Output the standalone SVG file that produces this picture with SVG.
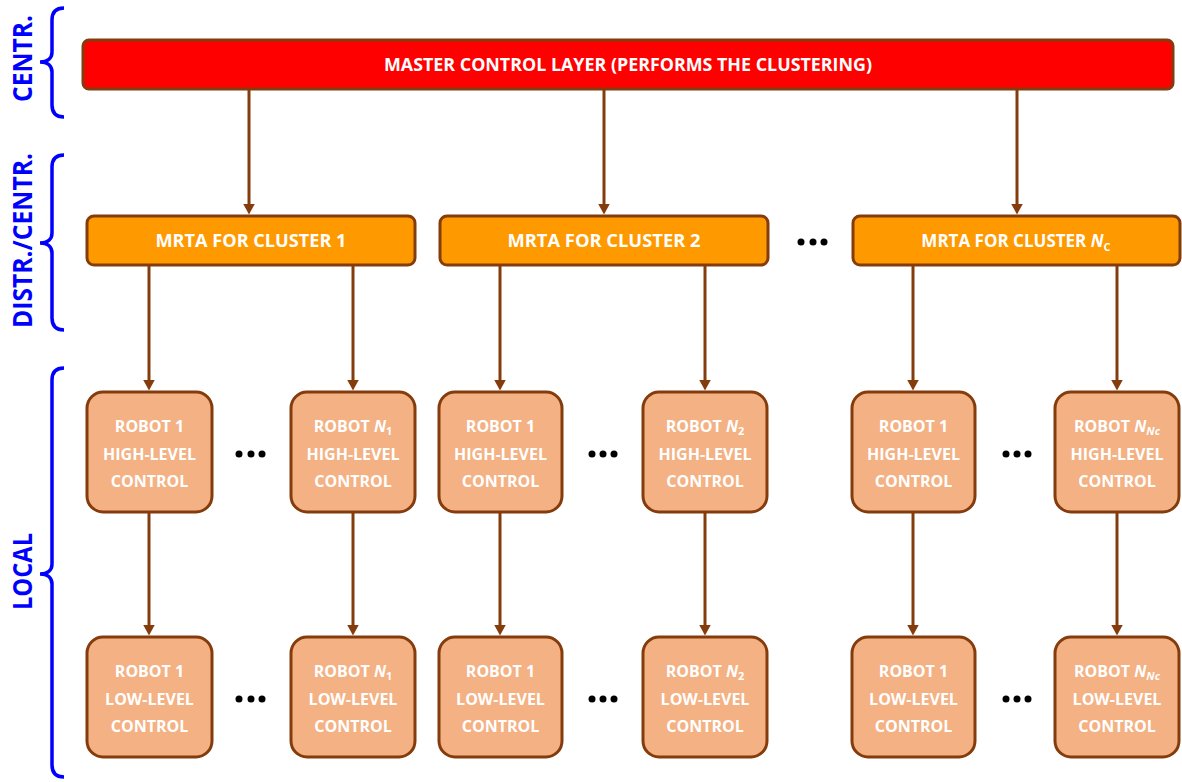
<svg xmlns="http://www.w3.org/2000/svg" width="1182" height="782" viewBox="0 0 1182 782">
<defs>
<marker id="ah" markerWidth="11" markerHeight="12" refX="0.5" refY="6" orient="auto" markerUnits="userSpaceOnUse" viewBox="0 0 11 12">
<path d="M0,0 L11,6 L0,12 Z" fill="#843C0C"/>
</marker>
<style>
.t{font-family:"Open Sans","Lato","Liberation Sans",sans-serif;font-weight:bold;fill:#fff;text-anchor:middle}
.rb{fill:#F4B183;stroke:#843C0C;stroke-width:3}
.mr{fill:#FF9900;stroke:#843C0C;stroke-width:3}
.ln{stroke:#843C0C;stroke-width:3;fill:none}
.br{stroke:#0000FF;stroke-width:3.5;fill:none}
.lb{font-family:"Open Sans","Lato","Liberation Sans",sans-serif;font-weight:bold;fill:#0000FF;text-anchor:middle;font-size:26px}
.r{font-size:16px}
.d{fill:#000}
</style>
</defs>
<rect width="1182" height="782" fill="#fff"/>

<g id="labels">
<path class="br" d="M64,8 C56,8 52,12 52,20 L52,52 C52,58 48,62 40,62 C48,62 52,66 52,72 L52,105 C52,113 56,117 64,117"/>
<text class="lb" transform="translate(31.5,58.5) rotate(-90)" textLength="87" lengthAdjust="spacingAndGlyphs">CENTR.</text>
<path class="br" d="M64,155 C56,155 52,159 52,167 L52,233 C52,239 48,243 40,243 C48,243 52,247 52,253 L52,318 C52,326 56,330 64,330"/>
<text class="lb" transform="translate(31.5,240.5) rotate(-90)" textLength="175" lengthAdjust="spacingAndGlyphs">DISTR./CENTR.</text>
<path class="br" d="M64,368 C56,368 52,372 52,380 L52,564 C52,570 48,574 40,574 C48,574 52,578 52,584 L52,765 C52,773 56,777 64,777"/>
<text class="lb" transform="translate(31.5,571.5) rotate(-90)" textLength="77" lengthAdjust="spacingAndGlyphs">LOCAL</text>
</g>

<g id="connectors">
<line class="ln" x1="249" y1="90" x2="249" y2="204" marker-end="url(#ah)"/>
<line class="ln" x1="604" y1="90" x2="604" y2="204" marker-end="url(#ah)"/>
<line class="ln" x1="1017" y1="90" x2="1017" y2="204" marker-end="url(#ah)"/>
<line class="ln" x1="149" y1="266" x2="149" y2="380" marker-end="url(#ah)"/>
<line class="ln" x1="353" y1="266" x2="353" y2="380" marker-end="url(#ah)"/>
<line class="ln" x1="500" y1="266" x2="500" y2="380" marker-end="url(#ah)"/>
<line class="ln" x1="705" y1="266" x2="705" y2="380" marker-end="url(#ah)"/>
<line class="ln" x1="913" y1="266" x2="913" y2="380" marker-end="url(#ah)"/>
<line class="ln" x1="1117" y1="266" x2="1117" y2="380" marker-end="url(#ah)"/>
<line class="ln" x1="149" y1="513" x2="149" y2="625" marker-end="url(#ah)"/>
<line class="ln" x1="353" y1="513" x2="353" y2="625" marker-end="url(#ah)"/>
<line class="ln" x1="500" y1="513" x2="500" y2="625" marker-end="url(#ah)"/>
<line class="ln" x1="705" y1="513" x2="705" y2="625" marker-end="url(#ah)"/>
<line class="ln" x1="913" y1="513" x2="913" y2="625" marker-end="url(#ah)"/>
<line class="ln" x1="1117" y1="513" x2="1117" y2="625" marker-end="url(#ah)"/>
</g>

<g id="master">
<rect x="83" y="40" width="1090" height="49" rx="6" fill="#FF0000" stroke="#843C0C" stroke-width="3"/>
<text class="t" x="628" y="71" font-size="18" textLength="488" lengthAdjust="spacingAndGlyphs">MASTER CONTROL LAYER (PERFORMS THE CLUSTERING)</text>
</g>

<g id="mrta1"><rect class="mr" x="87" y="216" width="328" height="49" rx="7"/>
<text class="t" x="251" y="247" font-size="17" textLength="191" lengthAdjust="spacingAndGlyphs">MRTA FOR CLUSTER 1</text></g>
<g id="mrta2"><rect class="mr" x="440" y="216" width="328" height="49" rx="7"/>
<text class="t" x="604" y="247" font-size="17" textLength="193" lengthAdjust="spacingAndGlyphs">MRTA FOR CLUSTER 2</text></g>
<g id="mrtaN"><rect class="mr" x="853" y="216" width="327" height="49" rx="7"/>
<text class="t" x="1016" y="247" font-size="17">MRTA FOR CLUSTER <tspan font-style="italic">N</tspan><tspan font-size="11" dy="4">C</tspan></text></g>

<g id="dots">
<circle class="d" cx="801" cy="242" r="3.5"/><circle class="d" cx="813" cy="242" r="3.5"/><circle class="d" cx="824" cy="242" r="3.5"/>
<circle class="d" cx="239" cy="454" r="3.5"/><circle class="d" cx="251" cy="454" r="3.5"/><circle class="d" cx="262" cy="454" r="3.5"/>
<circle class="d" cx="592" cy="454" r="3.5"/><circle class="d" cx="603" cy="454" r="3.5"/><circle class="d" cx="614" cy="454" r="3.5"/>
<circle class="d" cx="1006" cy="454" r="3.5"/><circle class="d" cx="1017" cy="454" r="3.5"/><circle class="d" cx="1028" cy="454" r="3.5"/>
<circle class="d" cx="239" cy="699" r="3.5"/><circle class="d" cx="251" cy="699" r="3.5"/><circle class="d" cx="262" cy="699" r="3.5"/>
<circle class="d" cx="592" cy="699" r="3.5"/><circle class="d" cx="603" cy="699" r="3.5"/><circle class="d" cx="614" cy="699" r="3.5"/>
<circle class="d" cx="1006" cy="699" r="3.5"/><circle class="d" cx="1017" cy="699" r="3.5"/><circle class="d" cx="1028" cy="699" r="3.5"/>
</g>

<g id="h11"><rect class="rb" x="87" y="392" width="125" height="120" rx="16"/>
<text class="t r" x="149.5" y="432">ROBOT 1</text><text class="t r" x="149.5" y="460">HIGH-LEVEL</text><text class="t r" x="149.5" y="487">CONTROL</text></g>
<g id="h1N"><rect class="rb" x="291" y="392" width="124" height="120" rx="16"/>
<text class="t r" x="353" y="432">ROBOT <tspan font-style="italic">N</tspan><tspan font-size="11" dy="3">1</tspan></text><text class="t r" x="353" y="460">HIGH-LEVEL</text><text class="t r" x="353" y="487">CONTROL</text></g>
<g id="h21"><rect class="rb" x="439" y="392" width="123" height="120" rx="16"/>
<text class="t r" x="500.5" y="432">ROBOT 1</text><text class="t r" x="500.5" y="460">HIGH-LEVEL</text><text class="t r" x="500.5" y="487">CONTROL</text></g>
<g id="h2N"><rect class="rb" x="643" y="392" width="124" height="120" rx="16"/>
<text class="t r" x="705" y="432">ROBOT <tspan font-style="italic">N</tspan><tspan font-size="11" dy="3">2</tspan></text><text class="t r" x="705" y="460">HIGH-LEVEL</text><text class="t r" x="705" y="487">CONTROL</text></g>
<g id="h31"><rect class="rb" x="852" y="392" width="123" height="120" rx="16"/>
<text class="t r" x="913.5" y="432">ROBOT 1</text><text class="t r" x="913.5" y="460">HIGH-LEVEL</text><text class="t r" x="913.5" y="487">CONTROL</text></g>
<g id="h3N"><rect class="rb" x="1055" y="392" width="124" height="120" rx="16"/>
<text class="t r" x="1117" y="432">ROBOT <tspan font-style="italic">N</tspan><tspan font-size="11" font-style="italic" dy="3">Nc</tspan></text><text class="t r" x="1117" y="460">HIGH-LEVEL</text><text class="t r" x="1117" y="487">CONTROL</text></g>

<g id="l11"><rect class="rb" x="87" y="637" width="125" height="120" rx="16"/>
<text class="t r" x="149.5" y="677">ROBOT 1</text><text class="t r" x="149.5" y="705">LOW-LEVEL</text><text class="t r" x="149.5" y="732">CONTROL</text></g>
<g id="l1N"><rect class="rb" x="291" y="637" width="124" height="120" rx="16"/>
<text class="t r" x="353" y="677">ROBOT <tspan font-style="italic">N</tspan><tspan font-size="11" dy="3">1</tspan></text><text class="t r" x="353" y="705">LOW-LEVEL</text><text class="t r" x="353" y="732">CONTROL</text></g>
<g id="l21"><rect class="rb" x="439" y="637" width="123" height="120" rx="16"/>
<text class="t r" x="500.5" y="677">ROBOT 1</text><text class="t r" x="500.5" y="705">LOW-LEVEL</text><text class="t r" x="500.5" y="732">CONTROL</text></g>
<g id="l2N"><rect class="rb" x="643" y="637" width="124" height="120" rx="16"/>
<text class="t r" x="705" y="677">ROBOT <tspan font-style="italic">N</tspan><tspan font-size="11" dy="3">2</tspan></text><text class="t r" x="705" y="705">LOW-LEVEL</text><text class="t r" x="705" y="732">CONTROL</text></g>
<g id="l31"><rect class="rb" x="852" y="637" width="123" height="120" rx="16"/>
<text class="t r" x="913.5" y="677">ROBOT 1</text><text class="t r" x="913.5" y="705">LOW-LEVEL</text><text class="t r" x="913.5" y="732">CONTROL</text></g>
<g id="l3N"><rect class="rb" x="1055" y="637" width="124" height="120" rx="16"/>
<text class="t r" x="1117" y="677">ROBOT <tspan font-style="italic">N</tspan><tspan font-size="11" font-style="italic" dy="3">Nc</tspan></text><text class="t r" x="1117" y="705">LOW-LEVEL</text><text class="t r" x="1117" y="732">CONTROL</text></g>
</svg>
